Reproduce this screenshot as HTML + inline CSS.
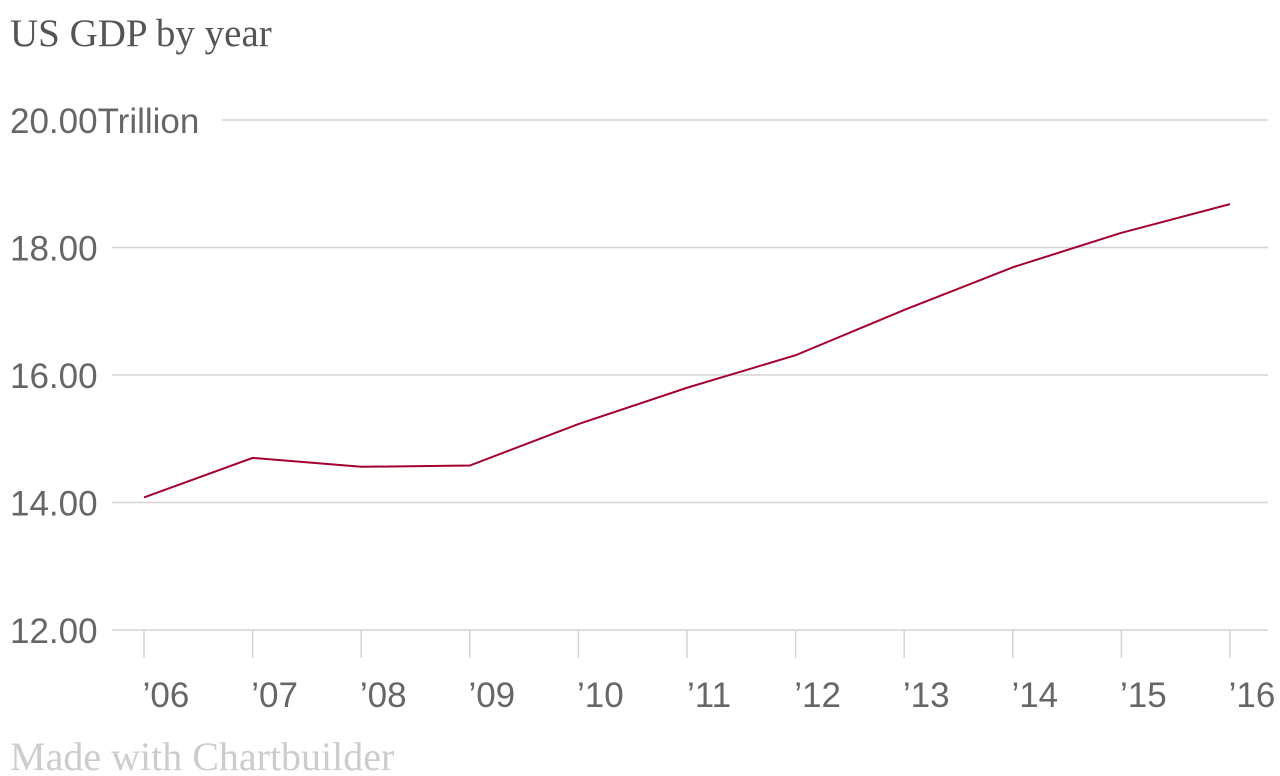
<!DOCTYPE html>
<html><head><meta charset="utf-8"><style>
body{margin:0;background:#fff;width:1280px;height:776px;overflow:hidden}
svg{display:block}
</style></head><body>
<svg id="chart" width="1280" height="776">
<text x="10" y="46" font-family="Liberation Serif, serif" font-size="39" fill="#555">US GDP by year</text>
<g id="grid"></g>
<g id="yticks"></g>
<g id="xticks"></g>
<path id="line" fill="none" stroke="#a3002f" stroke-width="2"></path>
<text x="10" y="770" font-family="Liberation Serif, serif" font-size="40" fill="#ccc">Made with Chartbuilder</text>
</svg>
<script>
const years = ["’06","’07","’08","’09","’10","’11","’12","’13","’14","’15","’16"];
const gdp = [14.08,14.70,14.56,14.58,15.23,15.80,16.31,17.02,17.69,18.23,18.68];
const yTicks = [12,14,16,18,20];
const yTickLabels = ["12.00","14.00","16.00","18.00","20.00Trillion"];
const NS="http://www.w3.org/2000/svg";
const y = v => 630 - (v-12)*63.75;
const x = i => 144 + i*108.6;
const grid=document.getElementById('grid'), yt=document.getElementById('yticks'), xt=document.getElementById('xticks');
yTicks.forEach((t,i)=>{
  const l=document.createElementNS(NS,'line');
  
  
  l.setAttribute('x1', i===yTicks.length-1?222:112);l.setAttribute('x2',1268);
  l.setAttribute('y1',y(t));l.setAttribute('y2',y(t));
  l.setAttribute('stroke','#d4d4d4');l.setAttribute('stroke-width','1.5');
  grid.appendChild(l);
  const tx=document.createElementNS(NS,'text');
  
  
  tx.setAttribute('x',10);tx.setAttribute('y',y(t)+13);
  tx.setAttribute('font-family','Liberation Sans, sans-serif');tx.setAttribute('font-size','35');tx.setAttribute('fill','#666');
  tx.textContent=yTickLabels[i];
  yt.appendChild(tx);
});
years.forEach((yr,i)=>{
  const l=document.createElementNS(NS,'line');
  
  
  l.setAttribute('x1',x(i));l.setAttribute('x2',x(i));l.setAttribute('y1',630);l.setAttribute('y2',658);
  l.setAttribute('stroke','#d4d4d4');l.setAttribute('stroke-width','1.5');
  xt.appendChild(l);
  const tx=document.createElementNS(NS,'text');
  
  
  tx.setAttribute('x',x(i)+22);tx.setAttribute('y',707);tx.setAttribute('text-anchor','middle');
  tx.setAttribute('font-family','Liberation Sans, sans-serif');tx.setAttribute('font-size','35');tx.setAttribute('fill','#666');
  tx.textContent=yr;
  xt.appendChild(tx);
});
document.getElementById('line').setAttribute('d',gdp.map((v,i)=>(i?'L':'M')+x(i)+','+y(v)).join(' '));
</script>
</body></html>
